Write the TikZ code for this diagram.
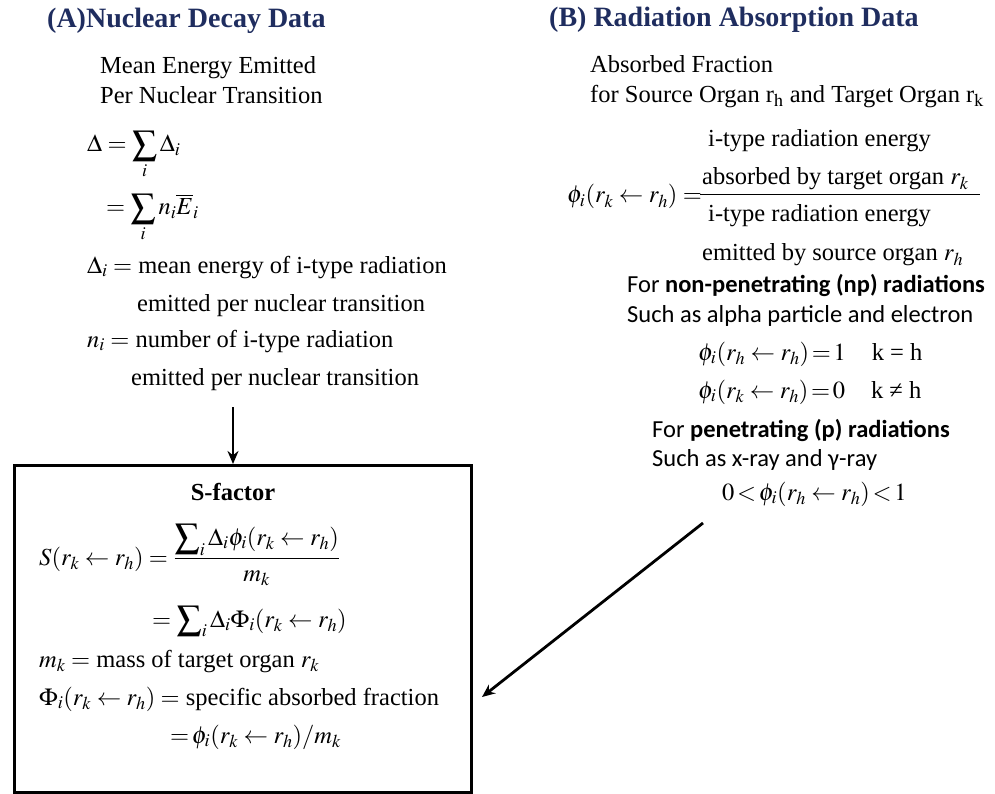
\documentclass[tikz,border=0pt]{standalone}
\usepackage{mathptmx}
\usepackage{fontspec}
\setmainfont{Liberation Serif}
\newfontfamily\calibfont{Carlito}
\usetikzlibrary{arrows.meta}
\definecolor{navy}{RGB}{31,45,95}
\begin{document}
\begin{tikzpicture}[x=1pt,y=-1pt,
  every node/.style={inner sep=0pt,anchor=base west},
  txt/.style={font=\fontsize{24.5}{29}\selectfont},
  sans/.style={font=\fontsize{24.5}{29}\selectfont\calibfont},
  ttl/.style={font=\fontsize{28}{32}\selectfont\bfseries,text=navy},
  arr/.style={line width=2.8pt,-{Stealth[length=13pt,width=11pt]}}]
\useasboundingbox (0,0) rectangle (995,794);
% (A)
\node[ttl] (ta) at (47,28) {(A)Nuclear Decay Data};
\node[txt] (a1) at (100,74) {Mean Energy Emitted};
\node[txt] (a2) at (100,104) {Per Nuclear Transition};
\node[txt] (d1) at (87,152) {$\Delta=\displaystyle\sum_i\Delta_i$};
\node[txt] (d2) at (106,215) {$=\displaystyle\sum_i n_i\overline{E}_i$};
\node[txt] (d3) at (87,273) {$\Delta_i=$ mean energy of i-type radiation};
\node[txt] (d4) at (137,311) {emitted per nuclear transition};
\node[txt] (d5) at (87,347) {$n_i=$ number of i-type radiation};
\node[txt] (d6) at (131,385) {emitted per nuclear transition};
% (B)
\node[ttl] (tb) at (549,27) {(B) Radiation Absorption Data};
\node[txt] (b1) at (590,73) {Absorbed Fraction};
\node[txt] (b2) at (590,103) {for Source Organ r$_\mathrm{h}$ and Target Organ r$_\mathrm{k}$};
\node[txt] (b3) at (708,147) {i-type radiation energy};
\node[txt] (b4) at (702,185) {absorbed by target organ $r_k$};
\node[txt] (b5) at (567,203) {$\phi_i(r_k\leftarrow r_h)=$};
\coordinate (barL) at (700,194);
\coordinate (barR) at (980,194);
\draw[line width=0.8pt] (barL) -- (barR);
\node[txt] (b6) at (708,222) {i-type radiation energy};
\node[txt] (b7) at (702,261) {emitted by source organ $r_h$};
\node[sans] (b8) at (627,292) {For \textbf{non-penetrating (np) radiations}};
\node[sans] (b9) at (627,322) {Such as alpha particle and electron};
\node[txt] (b10) at (698,360) {$\phi_i(r_h\leftarrow r_h)\!=\!1$\hspace{26pt}k = h};
\node[txt] (b11) at (698,398) {$\phi_i(r_k\leftarrow r_h)\!=\!0$\hspace{26pt}k ≠ h};
\node[sans] (b12) at (652,437) {For \textbf{penetrating (p) radiations}};
\node[sans] (b13) at (652,466) {Such as x-ray and γ-ray};
\node[txt] (b14) at (722,500) {$0\!<\!\phi_i(r_h\leftarrow r_h)\!<\!1$};
% S-factor box
\node[draw,line width=3pt,minimum width=457pt,minimum height=327pt,anchor=north west] (box) at (13,464) {};
\node[txt,font=\fontsize{24.5}{29}\selectfont\bfseries,anchor=base] (sf) at (233,500) {S-factor};
\node[txt] (s1) at (39,565) {$S(r_k\leftarrow r_h)=\displaystyle\frac{\displaystyle\sum\nolimits_i\Delta_i\phi_i(r_k\leftarrow r_h)}{m_k}$};
\node[txt] (s2) at (152,627) {$=\displaystyle\sum\nolimits_i\Delta_i\Phi_i(r_k\leftarrow r_h)$};
\node[txt] (s3) at (39,667) {$m_k=$ mass of target organ $r_k$};
\node[txt] (s4) at (39,705) {$\Phi_i(r_k\leftarrow r_h)=$ specific absorbed fraction};
\node[txt] (s5) at (170,743) {$=\!\phi_i(r_k\leftarrow r_h)/m_k$};
% connectors
\coordinate (aStart) at (233,407);
\draw[arr] (aStart) -- (aStart |- box.north);
\coordinate (bStart) at (703,523);
\coordinate (bEnd) at (482,697);
\draw[arr] (bStart) -- (bEnd);
\end{tikzpicture}
\end{document}
